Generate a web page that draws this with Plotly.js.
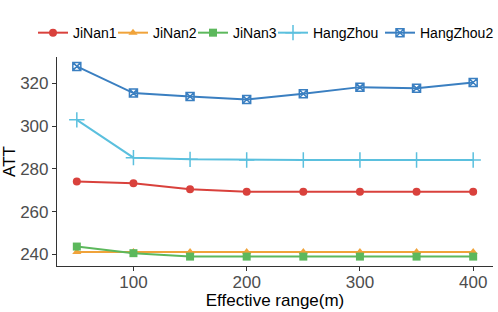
<!DOCTYPE html>
<html><head><meta charset="utf-8">
<script src="https://cdn.plot.ly/plotly-3.0.1.min.js"></script>
<style>html,body{margin:0;padding:0;background:#fff}#chart{width:498px;height:312px}</style>
</head><body><div id="chart"></div>
<script>
const ranges = [50, 100, 150, 200, 250, 300, 350, 400];
const seriesNames = ["JiNan1", "JiNan2", "JiNan3", "HangZhou", "HangZhou2"];
const jinan1 = [274.1, 273.3, 270.5, 269.4, 269.4, 269.4, 269.4, 269.4];
const jinan2 = [241.2, 241.1, 241.1, 241.1, 241.1, 241.1, 241.1, 241.1];
const jinan3 = [243.7, 240.6, 239.0, 239.0, 239.0, 239.0, 239.0, 239.0];
const hangzhou = [303.0, 285.3, 284.5, 284.2, 284.2, 284.2, 284.2, 284.2];
const hangzhou2 = [328.0, 315.5, 313.9, 312.5, 315.2, 318.3, 317.8, 320.5];

const values = [jinan1, jinan2, jinan3, hangzhou, hangzhou2];
const colors = ["#d9413c", "#f0a33a", "#5cb85c", "#5bc0de", "#3a7fc1"];
const symbols = ["circle", "triangle-up", "square", "cross-thin-open", "square-x-open"];
const sizes = [8, 8, 8, 11, 8];
const legendIds = ["legend", "legend2", "legend3", "legend4", "legend5"];
const legendX = [33, 113, 193, 273, 380];

const traces = values.map((v, i) => ({
  x: ranges, y: v, name: seriesNames[i], type: "scatter", mode: "lines+markers",
  legend: legendIds[i],
  line: {color: colors[i], width: 2},
  marker: {symbol: symbols[i], size: sizes[i], color: colors[i], line: {color: colors[i], width: (i >= 3 ? 1.5 : 0)}}
}));

const layout = {
  width: 498, height: 312,
  margin: {l: 57, r: 5, t: 57, b: 46},
  paper_bgcolor: "#fff", plot_bgcolor: "#fff",
  font: {family: "Liberation Sans, Arial, sans-serif", color: "#000"},
  showlegend: true,
  xaxis: {
    range: [32.5, 417.5], tickvals: [100, 200, 300, 400], ticktext: ["100", "200", "300", "400"],
    showgrid: false, zeroline: false, showline: true, linecolor: "#333", linewidth: 1.2,
    ticks: "outside", ticklen: 4, tickcolor: "#333", tickfont: {size: 17, color: "#4d4d4d"},
    ticklabelstandoff: -4,
    title: {text: "Effective range(m)", font: {size: 17, color: "#000"}, standoff: 0}
  },
  yaxis: {
    range: [234.6, 332.4], tickvals: [240, 260, 280, 300, 320],
    showgrid: false, zeroline: false, showline: true, linecolor: "#333", linewidth: 1.2,
    ticks: "outside", ticklen: 4, tickcolor: "#333", tickfont: {size: 17, color: "#4d4d4d"},
    title: {text: "ATT", font: {size: 17, color: "#000"}, standoff: 4}
  }
};
legendIds.forEach((id, i) => {
  layout[id] = {orientation: "h", xref: "container", yref: "container", xanchor: "left",
    x: legendX[i] / 498, y: 0.894, yanchor: "middle", font: {size: 14, color: "#000"}, itemwidth: 30,
    bgcolor: "rgba(0,0,0,0)", borderwidth: 0};
});
Plotly.newPlot("chart", traces, layout, {displayModeBar: false});
</script></body></html>
